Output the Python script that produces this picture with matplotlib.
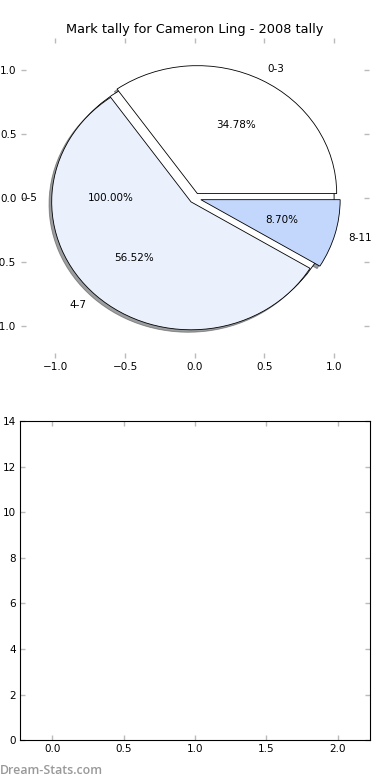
import matplotlib
matplotlib.use("Agg")
import matplotlib.pyplot as plt

title = "Mark tally for Cameron Ling - 2008 tally"
base_labels = ["0-5"]
base_values = [1]
labels = ["0-3", "4-7", "8-11"]
values = [8, 13, 2]
colors = ["#ffffff", "#eaf1fd", "#c3d7fc"]
explode = [0.04, 0.04, 0.045]
pie_ticks = [-1.0, -0.5, 0.0, 0.5, 1.0]
bar_xticks = [0.0, 0.5, 1.0, 1.5, 2.0]
bar_yticks = [0, 2, 4, 6, 8, 10, 12, 14]

plt.rcParams['font.family'] = ['DejaVu Sans']
fig = plt.figure(figsize=(3.9, 7.8), dpi=100)

ax1 = fig.add_axes([0.053, 0.541, 0.893, 0.41])
wp = {'edgecolor': 'black', 'linewidth': 0.6}
tp = {'fontsize': 7.5}
sh = {'ox': -0.014, 'oy': -0.014, 'shade': 0.75}
ax1.pie(base_values, labels=base_labels, colors=["#ffffff"], autopct='%1.2f%%',
        shadow=sh, wedgeprops=wp, textprops=tp, frame=True, labeldistance=1.13)
ax1.pie(values, labels=labels, colors=colors, explode=explode, autopct='%1.2f%%',
        shadow=sh, wedgeprops=wp, textprops=tp, frame=True)
ax1.set_aspect('auto')
ax1.set_xlim(-1.25, 1.25)
ax1.set_ylim(-1.25, 1.25)
ax1.set_frame_on(False)
ax1.set_xticks(pie_ticks)
ax1.set_yticks(pie_ticks)
ax1.set_title(title, fontsize=9.3, pad=4)

ax2 = fig.add_axes([0.052, 0.051, 0.896, 0.409])
ax2.set_xlim(-0.225, 2.225)
ax2.set_ylim(0, 14)
ax2.set_xticks(bar_xticks)
ax2.set_yticks(bar_yticks)
for s in ax2.spines.values():
    s.set_linewidth(0.8)

for ax in (ax1, ax2):
    ax.tick_params(direction='in', length=3.5, width=1, color='#bbbbbb',
                   labelsize=7.5, pad=3, top=True, right=True)

fig.text(0.0, 0.004, "Dream-Stats.com", color='#999999', fontsize=8.9,
         family=['Open Sans', 'DejaVu Sans'], fontweight='semibold',
         ha='left', va='bottom')

fig.savefig("out.png", dpi=100)
